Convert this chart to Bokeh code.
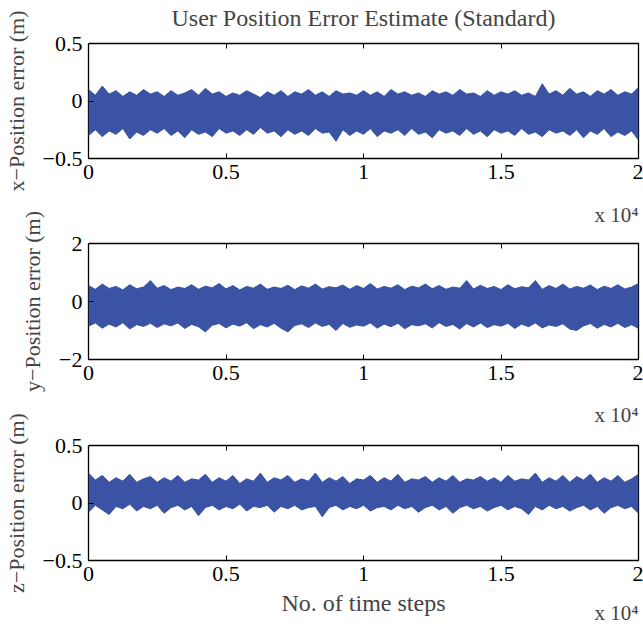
import numpy as np
from bokeh.plotting import figure
from bokeh.layouts import column
from bokeh.models import FixedTicker, LinearAxis, Range1d, Title
from bokeh.embed import file_html
from bokeh.resources import INLINE

# ---------------- data (envelopes of the noisy error traces) -------------
n_steps_max = 20000
x_ticks = [0, 5000, 10000, 15000, 20000]
x_tick_labels = ["0", "0.5", "1", "1.5", "2"]

hi_x = [0.10, 0.05, 0.13, 0.06, 0.09, 0.04, 0.08, 0.05, 0.10, 0.06,
        0.08, 0.04, 0.09, 0.05, 0.07, 0.10, 0.05, 0.11, 0.06, 0.08,
        0.04, 0.07, 0.05, 0.09, 0.06, 0.03, 0.08, 0.05, 0.09, 0.04,
        0.08, 0.06, 0.10, 0.05, 0.08, 0.04, 0.09, 0.06, 0.07, 0.05,
        0.09, 0.05, 0.08, 0.04, 0.10, 0.06, 0.08, 0.05, 0.07, 0.04,
        0.09, 0.06, 0.08, 0.05, 0.10, 0.06, 0.07, 0.04, 0.09, 0.05,
        0.08, 0.06, 0.09, 0.05, 0.07, 0.04, 0.15, 0.06, 0.09, 0.05,
        0.11, 0.06, 0.08, 0.04, 0.09, 0.06, 0.10, 0.05, 0.08, 0.06, 0.12]
lo_x = [-0.30, -0.25, -0.31, -0.26, -0.29, -0.24, -0.33, -0.27, -0.30, -0.25,
        -0.28, -0.24, -0.30, -0.26, -0.32, -0.25, -0.29, -0.27, -0.31, -0.24,
        -0.28, -0.26, -0.30, -0.25, -0.29, -0.23, -0.28, -0.26, -0.31, -0.25,
        -0.29, -0.26, -0.30, -0.24, -0.28, -0.27, -0.35, -0.25, -0.30, -0.26,
        -0.29, -0.24, -0.31, -0.26, -0.28, -0.25, -0.30, -0.24, -0.29, -0.27,
        -0.32, -0.25, -0.28, -0.26, -0.30, -0.24, -0.29, -0.26, -0.31, -0.25,
        -0.28, -0.26, -0.30, -0.24, -0.29, -0.27, -0.31, -0.25, -0.28, -0.26,
        -0.30, -0.25, -0.32, -0.26, -0.29, -0.24, -0.31, -0.27, -0.30, -0.26, -0.34]

hi_y = [0.55, 0.42, 0.60, 0.45, 0.52, 0.40, 0.58, 0.44, 0.50, 0.72,
        0.46, 0.55, 0.41, 0.50, 0.45, 0.58, 0.42, 0.53, 0.47, 0.62,
        0.43, 0.55, 0.40, 0.52, 0.46, 0.60, 0.42, 0.50, 0.45, 0.56,
        0.41, 0.54, 0.46, 0.60, 0.43, 0.51, 0.47, 0.57, 0.42, 0.55,
        0.45, 0.62, 0.43, 0.52, 0.46, 0.58, 0.41, 0.53, 0.47, 0.60,
        0.44, 0.55, 0.42, 0.50, 0.46, 0.72, 0.43, 0.56, 0.45, 0.52,
        0.41, 0.58, 0.44, 0.51, 0.47, 0.72, 0.42, 0.55, 0.45, 0.60,
        0.43, 0.52, 0.46, 0.57, 0.41, 0.53, 0.45, 0.58, 0.43, 0.50, 0.62]
lo_y = [-0.85, -0.74, -0.92, -0.78, -0.88, -0.73, -0.95, -0.80, -0.86, -0.75,
        -0.90, -0.77, -0.84, -0.74, -0.93, -0.79, -0.87, -1.05, -0.82, -0.76,
        -0.91, -0.78, -0.85, -0.73, -0.94, -0.80, -0.88, -0.75, -0.92, -1.05,
        -0.83, -0.77, -0.90, -0.74, -0.86, -0.79, -1.00, -0.76, -0.89, -0.81,
        -0.85, -0.74, -0.92, -0.78, -0.87, -0.75, -0.94, -0.80, -0.84, -0.77,
        -0.91, -0.73, -0.86, -0.79, -0.95, -0.76, -0.88, -0.74, -0.90, -0.80,
        -0.85, -0.75, -0.93, -0.78, -0.87, -0.74, -0.91, -0.81, -0.86, -0.77,
        -0.95, -1.00, -0.84, -0.76, -0.92, -0.79, -0.88, -0.75, -0.90, -0.80, -0.93]

hi_z = [0.26, 0.20, 0.24, 0.18, 0.22, 0.19, 0.25, 0.18, 0.21, 0.23,
        0.18, 0.22, 0.19, 0.24, 0.18, 0.21, 0.20, 0.25, 0.18, 0.22,
        0.19, 0.24, 0.17, 0.21, 0.19, 0.26, 0.18, 0.22, 0.20, 0.24,
        0.18, 0.21, 0.19, 0.26, 0.18, 0.22, 0.19, 0.23, 0.17, 0.21,
        0.20, 0.24, 0.18, 0.22, 0.19, 0.25, 0.18, 0.21, 0.20, 0.23,
        0.18, 0.22, 0.19, 0.24, 0.18, 0.21, 0.20, 0.23, 0.19, 0.22,
        0.18, 0.24, 0.19, 0.21, 0.20, 0.26, 0.18, 0.22, 0.19, 0.24,
        0.18, 0.23, 0.20, 0.25, 0.18, 0.22, 0.19, 0.24, 0.18, 0.21, 0.25]
lo_z = [-0.08, -0.02, -0.06, -0.10, -0.03, -0.05, -0.01, -0.07, -0.03, -0.05,
        -0.02, -0.09, -0.04, -0.02, -0.06, -0.03, -0.11, -0.04, -0.02, -0.06,
        -0.03, -0.05, -0.01, -0.07, -0.03, -0.04, -0.02, -0.08, -0.03, -0.05,
        -0.02, -0.06, -0.04, -0.03, -0.12, -0.04, -0.02, -0.06, -0.03, -0.05,
        -0.02, -0.07, -0.04, -0.03, -0.06, -0.02, -0.05, -0.03, -0.08, -0.04,
        -0.02, -0.06, -0.03, -0.09, -0.04, -0.02, -0.05, -0.03, -0.07, -0.04,
        -0.02, -0.06, -0.03, -0.05, -0.10, -0.03, -0.06, -0.02, -0.05, -0.03,
        -0.07, -0.04, -0.02, -0.06, -0.03, -0.09, -0.04, -0.02, -0.05, -0.03, -0.09]

panels = [
    dict(hi=hi_x, lo=lo_x, yr=(-0.5, 0.5), yt=[-0.5, 0, 0.5], ytl=["\u22120.5", "0", "0.5"],
         ylabel="x\u2212Position error (m)"),
    dict(hi=hi_y, lo=lo_y, yr=(-2, 2), yt=[-2, 0, 2], ytl=["\u22122", "0", "2"],
         ylabel="y\u2212Position error (m)"),
    dict(hi=hi_z, lo=lo_z, yr=(-0.5, 0.5), yt=[-0.5, 0, 0.5], ytl=["\u22120.5", "0", "0.5"],
         ylabel="z\u2212Position error (m)"),
]
title_text = "User Position Error Estimate (Standard)"
xlabel_text = "No. of time steps"
mult_text = "x 10\u2074"

# ---------------- styling ----------------
FONT = "Liberation Serif"
BLUE = "#3a53a4"
TICK_FS = "22px"
YLABEL_FS = "22px"
BIG_FS = "24px"
MULT_FS = "21px"
# (top border, frame height, bottom border, spacer above frame)
borders = [(43, 115, 40, 13), (45, 116, 41, 17), (44, 115, 69, 19)]


def spacer_axis(size):
    # a white, label-less tick that only reserves vertical room above the frame
    return LinearAxis(ticker=FixedTicker(ticks=[0]), major_tick_in=0, major_tick_out=size,
                      major_tick_line_color="white", major_tick_line_width=1,
                      major_label_text_color=None,
                      major_label_text_font_size="1px", major_label_standoff=0,
                      minor_tick_line_color=None, axis_line_color=None)


figs = []
for i, (pd_, (bt, fh, bb, sp)) in enumerate(zip(panels, borders)):
    xs = np.linspace(0, n_steps_max, len(pd_["hi"]))
    p = figure(output_backend="svg", toolbar_location=None,
               frame_width=550, frame_height=fh,
               min_border_left=88, min_border_right=5,
               min_border_top=bt, min_border_bottom=bb,
               x_range=Range1d(0, n_steps_max), y_range=Range1d(*pd_["yr"]),
               background_fill_color="white", border_fill_color="white")
    p.grid.visible = False
    p.outline_line_color = "black"
    p.outline_line_width = 1.3

    p.varea(x=xs, y1=pd_["lo"], y2=pd_["hi"], fill_color=BLUE, fill_alpha=1.0)
    p.line(x=xs, y=pd_["hi"], line_color=BLUE, line_width=1)
    p.line(x=xs, y=pd_["lo"], line_color=BLUE, line_width=1)

    xa = p.xaxis[0]
    xa.ticker = FixedTicker(ticks=x_ticks)
    xa.major_label_overrides = {t: l for t, l in zip(x_ticks, x_tick_labels)}
    ya = p.yaxis[0]
    ya.ticker = FixedTicker(ticks=pd_["yt"])
    ya.major_label_overrides = {t: l for t, l in zip(pd_["yt"], pd_["ytl"])}
    ya.axis_label = pd_["ylabel"]
    ya.axis_label_text_font = FONT
    ya.axis_label_text_font_size = YLABEL_FS
    ya.axis_label_text_font_style = "normal"
    ya.axis_label_standoff = 11
    for ax in (xa, ya):
        ax.major_label_text_font = FONT
        ax.major_label_text_font_size = TICK_FS
        ax.major_label_text_color = "black"
        ax.axis_line_color = None
        ax.major_tick_in = 5
        ax.major_tick_out = 0
        ax.major_tick_line_color = "black"
        ax.minor_tick_line_color = None
        ax.major_label_standoff = 6
    # mirrored top ticks (no labels)
    top = LinearAxis(ticker=FixedTicker(ticks=x_ticks), major_label_text_font_size="1px",
                     major_label_text_color=None,
                     major_label_standoff=0, major_tick_in=5, major_tick_out=0,
                     minor_tick_line_color=None, axis_line_color=None,
                     major_tick_line_color="black")
    p.add_layout(top, "above")
    p.add_layout(spacer_axis(sp), "above")

    if i == 0:
        p.add_layout(Title(text=title_text, align="center", text_font=FONT,
                           text_font_size=BIG_FS, text_font_style="normal",
                           standoff=0), "above")
    else:
        # multiplier belonging to the panel above
        p.add_layout(Title(text=mult_text, align="right", text_font=FONT,
                           text_font_size=MULT_FS, text_font_style="normal",
                           offset=0, standoff=0), "above")
    if i == 2:
        xa.axis_label = xlabel_text
        xa.axis_label_text_font = FONT
        xa.axis_label_text_font_size = BIG_FS
        xa.axis_label_text_font_style = "normal"
        xa.axis_label_standoff = 6
        p.add_layout(Title(text=mult_text, align="right", text_font=FONT,
                           text_font_size=MULT_FS, text_font_style="normal",
                           vertical_align="top", offset=0, standoff=-36), "below")
    figs.append(p)

layout = column(*figs, spacing=0)
open("out.html", "w").write(file_html(layout, INLINE))
